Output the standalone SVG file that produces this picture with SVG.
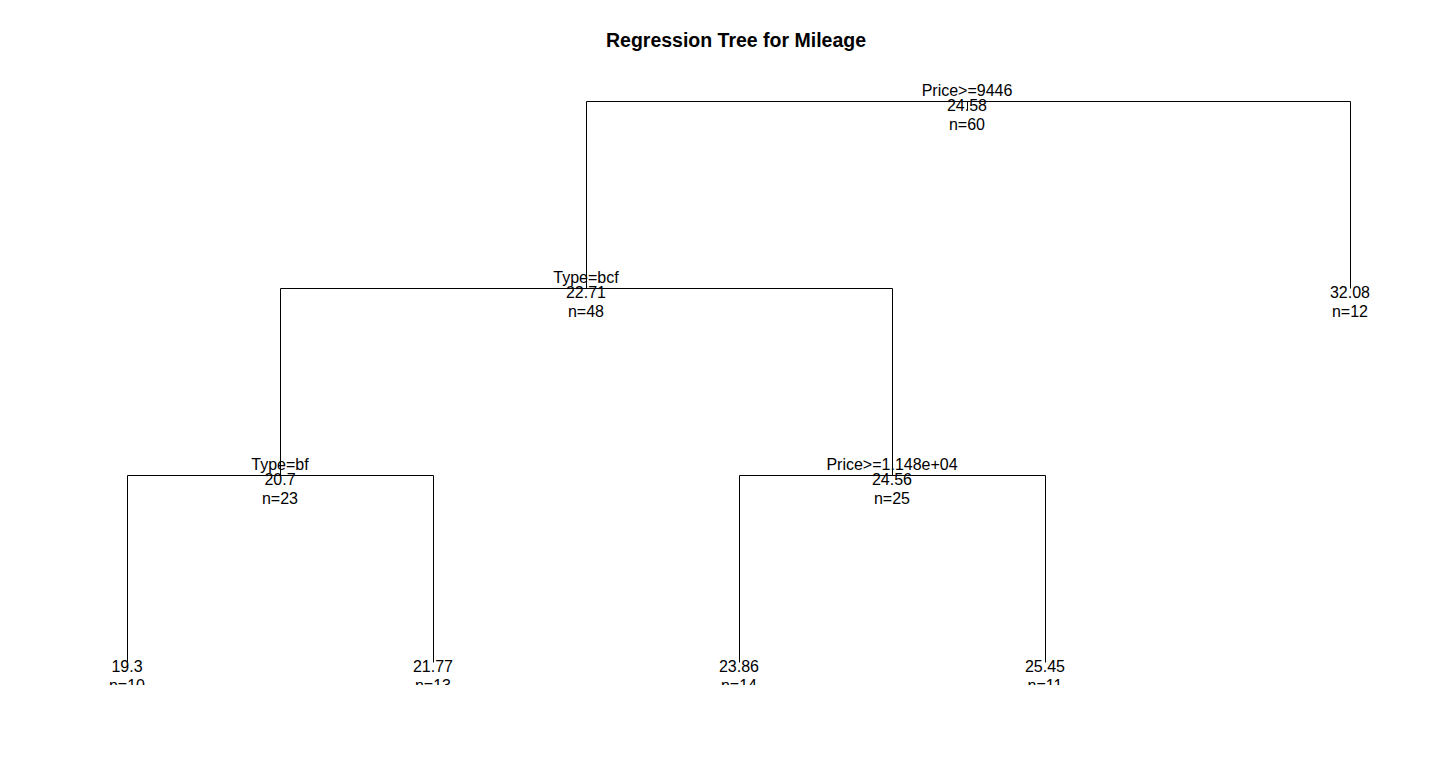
<svg xmlns="http://www.w3.org/2000/svg" width="1440" height="783" viewBox="0 0 1440 783">
<style>
.t{font-family:"Liberation Sans",Arial,sans-serif;font-size:16px;fill:#000;text-anchor:middle}
.title{font-family:"Liberation Sans",Arial,sans-serif;font-size:19.5px;font-weight:bold;fill:#000;text-anchor:middle}
.e{stroke:#000;stroke-width:1;fill:none}
</style>
<defs><clipPath id="plot"><rect x="0" y="0" width="1440" height="685"/></clipPath></defs>
<rect width="1440" height="783" fill="#fff"/>
<text class="title" x="736" y="47">Regression Tree for Mileage</text>
<g id="connectors" clip-path="url(#plot)">
<path class="e" d="M967.5 101.5V110"/>
<path class="e" d="M586.5 288.5V101.5H1350.5V288.5"/>
<path class="e" d="M280.5 475.5V288.5H892.5V475.5"/>
<path class="e" d="M127.5 662.5V475.5H433.5V662.5"/>
<path class="e" d="M739.5 662.5V475.5H1045.5V662.5"/>
</g>
<g clip-path="url(#plot)">
<g id="n1"><text class="t" x="967" y="96">Price&gt;=9446</text><text class="t" x="967" y="111">24.58</text><text class="t" x="967" y="130">n=60</text></g>
<g id="n2"><text class="t" x="586" y="283">Type=bcf</text><text class="t" x="586" y="298">22.71</text><text class="t" x="586" y="317">n=48</text></g>
<g id="n3"><text class="t" x="1350" y="298">32.08</text><text class="t" x="1350" y="317">n=12</text></g>
<g id="n4"><text class="t" x="280" y="470">Type=bf</text><text class="t" x="280" y="485">20.7</text><text class="t" x="280" y="504">n=23</text></g>
<g id="n5"><text class="t" x="892" y="470">Price&gt;=1.148e+04</text><text class="t" x="892" y="485">24.56</text><text class="t" x="892" y="504">n=25</text></g>
<g id="n8"><text class="t" x="127" y="672">19.3</text><text class="t" x="127" y="691">n=10</text></g>
<g id="n9"><text class="t" x="433" y="672">21.77</text><text class="t" x="433" y="691">n=13</text></g>
<g id="n10"><text class="t" x="739" y="672">23.86</text><text class="t" x="739" y="691">n=14</text></g>
<g id="n11"><text class="t" x="1045" y="672">25.45</text><text class="t" x="1045" y="691">n=11</text></g>
</g>
</svg>
